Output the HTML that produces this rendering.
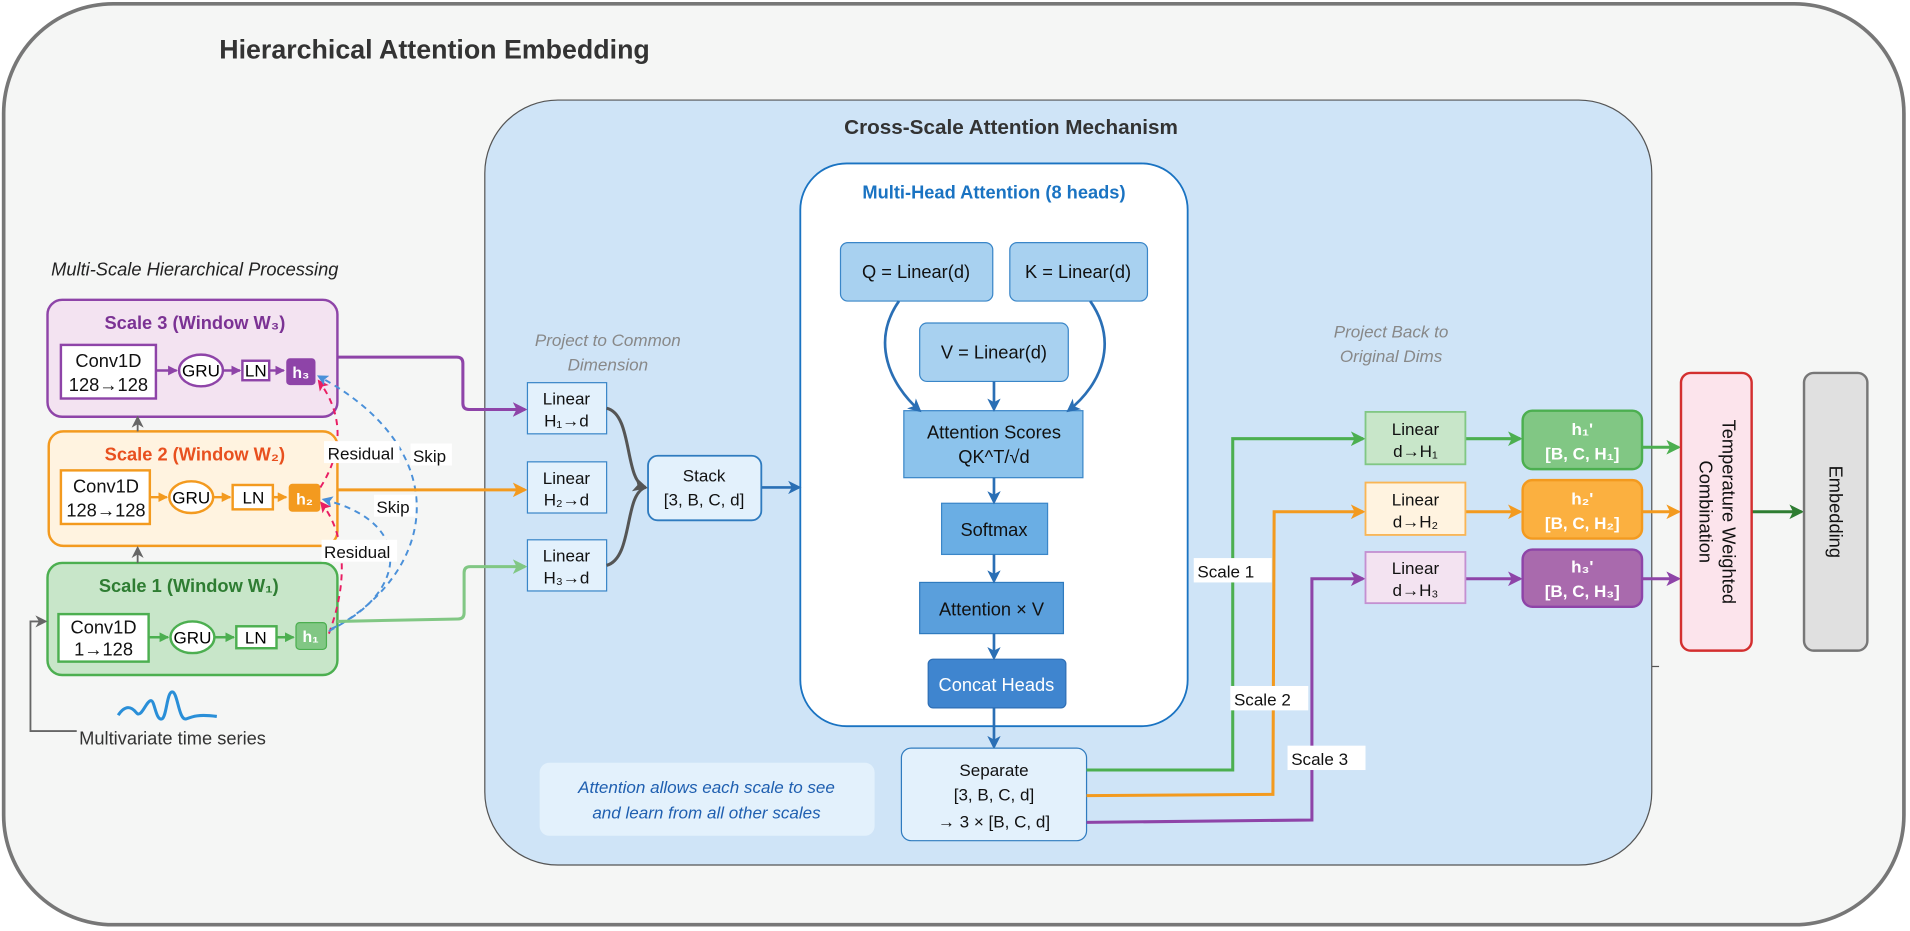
<!DOCTYPE html>
<html><head><meta charset="utf-8"><style>
html,body{margin:0;padding:0;background:#fff;}
svg{display:block;font-family:"Liberation Sans",sans-serif;}
</style></head><body>
<svg width="1910" height="931" viewBox="0 0 1568 764" xmlns="http://www.w3.org/2000/svg">
<defs>
<marker id="ag" markerWidth="10" markerHeight="10" refX="8" refY="5" orient="auto" markerUnits="userSpaceOnUse"><path d="M0,0 L10,5 L0,10 L3,5z" fill="#666"/></marker>
<marker id="ap" markerWidth="12" markerHeight="12" refX="10" refY="6" orient="auto" markerUnits="userSpaceOnUse"><path d="M0,0 L12,6 L0,12 L3,6z" fill="#8e44a8"/></marker>
<marker id="ao" markerWidth="12" markerHeight="12" refX="10" refY="6" orient="auto" markerUnits="userSpaceOnUse"><path d="M0,0 L12,6 L0,12 L3,6z" fill="#f39a1f"/></marker>
<marker id="agr" markerWidth="12" markerHeight="12" refX="10" refY="6" orient="auto" markerUnits="userSpaceOnUse"><path d="M0,0 L12,6 L0,12 L3,6z" fill="#4caf50"/></marker>
<marker id="algr" markerWidth="12" markerHeight="12" refX="10" refY="6" orient="auto" markerUnits="userSpaceOnUse"><path d="M0,0 L12,6 L0,12 L3,6z" fill="#81c784"/></marker>
<marker id="adg" markerWidth="12" markerHeight="12" refX="10" refY="6" orient="auto" markerUnits="userSpaceOnUse"><path d="M0,0 L12,6 L0,12 L3,6z" fill="#2e7d32"/></marker>
<marker id="ab" markerWidth="11" markerHeight="11" refX="9" refY="5.5" orient="auto" markerUnits="userSpaceOnUse"><path d="M0,0 L11,5.5 L0,11 L3,5.5z" fill="#2a6fb5"/></marker>
<marker id="agy" markerWidth="12" markerHeight="12" refX="10" refY="6" orient="auto" markerUnits="userSpaceOnUse"><path d="M0,0 L12,6 L0,12 L3,6z" fill="#555"/></marker>
<marker id="apk" markerWidth="9" markerHeight="9" refX="7" refY="4.5" orient="auto" markerUnits="userSpaceOnUse"><path d="M0,0 L9,4.5 L0,9 L2,4.5z" fill="#e91e63"/></marker>
<marker id="abl" markerWidth="9" markerHeight="9" refX="7" refY="4.5" orient="auto" markerUnits="userSpaceOnUse"><path d="M0,0 L9,4.5 L0,9 L2,4.5z" fill="#4a90d9"/></marker>
<marker id="agrs" markerWidth="8" markerHeight="8" refX="7" refY="4" orient="auto" markerUnits="userSpaceOnUse"><path d="M0,0 L8,4 L0,8z" fill="#4caf50"/></marker>
<marker id="aos" markerWidth="8" markerHeight="8" refX="7" refY="4" orient="auto" markerUnits="userSpaceOnUse"><path d="M0,0 L8,4 L0,8z" fill="#f39a1f"/></marker>
<marker id="aps" markerWidth="8" markerHeight="8" refX="7" refY="4" orient="auto" markerUnits="userSpaceOnUse"><path d="M0,0 L8,4 L0,8z" fill="#8e44a8"/></marker>
</defs>
<rect x="0" y="0" width="1568" height="764" fill="#fff"/>
<rect x="3" y="3" width="1560" height="756" rx="90" fill="#f5f6f5" stroke="#777" stroke-width="3"/>
<text x="180" y="48" font-size="22" font-weight="bold" fill="#333">Hierarchical Attention Embedding</text>

<!-- blue panel -->
<rect x="398" y="82" width="958" height="628" rx="60" fill="#cfe4f7" stroke="#555" stroke-width="1"/>
<line x1="1356" y1="547" x2="1362" y2="547" stroke="#555"/>
<text x="830" y="110" font-size="17" font-weight="bold" fill="#333" text-anchor="middle">Cross-Scale Attention Mechanism</text>

<!-- MHA -->
<rect x="657" y="134" width="318" height="462" rx="38" fill="#fff" stroke="#1a73c2" stroke-width="1.5"/>
<text x="816" y="163" font-size="15" font-weight="bold" fill="#1a73c2" text-anchor="middle">Multi-Head Attention (8 heads)</text>
<g font-size="15" fill="#111" text-anchor="middle">
<rect x="690" y="199" width="125" height="48" rx="6" fill="#a8d1f0" stroke="#3a86c8"/>
<text x="752" y="228">Q = Linear(d)</text>
<rect x="829" y="199" width="113" height="48" rx="6" fill="#a8d1f0" stroke="#3a86c8"/>
<text x="885" y="228">K = Linear(d)</text>
<rect x="755" y="265" width="122" height="48" rx="6" fill="#a8d1f0" stroke="#3a86c8"/>
<text x="816" y="294">V = Linear(d)</text>
<rect x="742" y="337" width="147" height="55" fill="#8cc3ec" stroke="#3a86c8"/>
<text x="816" y="360">Attention Scores</text>
<text x="816" y="380">QK^T/√d</text>
<rect x="773" y="413" width="87" height="42" fill="#6aaee4" stroke="#3a86c8"/>
<text x="816" y="440">Softmax</text>
<rect x="755" y="478" width="118" height="42" fill="#5a9fdc" stroke="#2f7bbf"/>
<text x="814" y="505">Attention × V</text>
<rect x="762" y="541" width="113" height="40" rx="4" fill="#3f85cf" stroke="#2f6fb5"/>
<text x="818" y="567" fill="#fff">Concat Heads</text>
</g>
<g fill="none" stroke="#2a6fb5" stroke-width="2.2">
<path d="M738,247 C715,280 730,315 755,337" marker-end="url(#ab)"/>
<path d="M895,247 C918,280 905,315 877,337" marker-end="url(#ab)"/>
<path d="M816,313 L816,336" marker-end="url(#ab)"/>
<path d="M816,392 L816,412" marker-end="url(#ab)"/>
<path d="M816,455 L816,477" marker-end="url(#ab)"/>
<path d="M816,520 L816,540" marker-end="url(#ab)"/>
<path d="M816,581 L816,613" marker-end="url(#ab)"/>
<path d="M625,400 L656,400" marker-end="url(#ab)"/>
</g>

<!-- Separate -->
<rect x="740" y="614" width="152" height="76" rx="8" fill="#e3f1fc" stroke="#2f7bbf"/>
<g font-size="14" fill="#111" text-anchor="middle">
<text x="816" y="637">Separate</text>
<text x="816" y="657">[3, B, C, d]</text>
<text x="816" y="679">→ 3 × [B, C, d]</text>
</g>
<rect x="443" y="626" width="275" height="60" rx="8" fill="#e3f1fc"/>
<g font-size="14" font-style="italic" fill="#1f5fb0" text-anchor="middle">
<text x="580" y="651">Attention allows each scale to see</text>
<text x="580" y="672">and learn from all other scales</text>
</g>

<!-- Project -->
<g font-size="14" font-style="italic" fill="#888" text-anchor="middle">
<text x="499" y="284">Project to Common</text>
<text x="499" y="304">Dimension</text>
<text x="1142" y="277">Project Back to</text>
<text x="1142" y="297">Original Dims</text>
</g>
<g font-size="14" fill="#111" text-anchor="middle">
<rect x="433" y="314" width="65" height="42" fill="#e3f1fc" stroke="#3a86c8"/>
<text x="465" y="332">Linear</text><text x="465" y="350">H₁→d</text>
<rect x="433" y="379" width="65" height="42" fill="#e3f1fc" stroke="#3a86c8"/>
<text x="465" y="397">Linear</text><text x="465" y="415">H₂→d</text>
<rect x="433" y="443" width="65" height="42" fill="#e3f1fc" stroke="#3a86c8"/>
<text x="465" y="461">Linear</text><text x="465" y="479">H₃→d</text>
<rect x="532" y="374" width="93" height="53" rx="8" fill="#e3f1fc" stroke="#2f7bbf" stroke-width="1.5"/>
<text x="578" y="395">Stack</text><text x="578" y="415">[3, B, C, d]</text>
</g>
<g fill="none" stroke="#555" stroke-width="2.5">
<path d="M498,335 C520,340 512,395 530,400" marker-end="url(#agy)"/>
<path d="M498,464 C520,458 512,405 530,400"/>
</g>

<!-- Left title -->
<text x="42" y="226" font-size="15" font-style="italic" fill="#222">Multi-Scale Hierarchical Processing</text>

<!-- Scale 3 -->
<rect x="39" y="246" width="238" height="96" rx="12" fill="#f3e3f1" stroke="#8e44a8" stroke-width="2"/>
<text x="160" y="270" font-size="15" font-weight="bold" fill="#7b3294" text-anchor="middle">Scale 3 (Window W₃)</text>
<rect x="50" y="283" width="78" height="44" fill="#fff" stroke="#8e44a8" stroke-width="2"/>
<g font-size="15" fill="#111" text-anchor="middle"><text x="89" y="301">Conv1D</text><text x="89" y="321">128→128</text></g>
<ellipse cx="165" cy="304" rx="18" ry="13" fill="#fff" stroke="#8e44a8" stroke-width="2"/>
<text x="165" y="309" font-size="14" text-anchor="middle">GRU</text>
<rect x="199" y="296" width="22" height="16" fill="#fff" stroke="#8e44a8" stroke-width="2"/>
<text x="210" y="309" font-size="14" text-anchor="middle">LN</text>
<rect x="235" y="294" width="24" height="22" rx="3" fill="#8e44a8"/>
<text x="247" y="310" font-size="13" font-weight="bold" fill="#fff" text-anchor="middle">h₃</text>
<g stroke="#8e44a8" stroke-width="2" fill="none"><path d="M128,304 L145,304" marker-end="url(#aps)"/><path d="M183,304 L197,304" marker-end="url(#aps)"/><path d="M221,304 L233,304" marker-end="url(#aps)"/></g>

<!-- Scale 2 -->
<rect x="40" y="354" width="237" height="94" rx="12" fill="#fff3e0" stroke="#f39a1f" stroke-width="2"/>
<text x="160" y="378" font-size="15" font-weight="bold" fill="#e8501f" text-anchor="middle">Scale 2 (Window W₂)</text>
<rect x="50" y="386" width="73" height="44" fill="#fff" stroke="#f39a1f" stroke-width="2"/>
<g font-size="15" fill="#111" text-anchor="middle"><text x="87" y="404">Conv1D</text><text x="87" y="424">128→128</text></g>
<ellipse cx="157" cy="408" rx="18" ry="13" fill="#fff" stroke="#f39a1f" stroke-width="2"/>
<text x="157" y="413" font-size="14" text-anchor="middle">GRU</text>
<rect x="191" y="398" width="33" height="20" fill="#fff" stroke="#f39a1f" stroke-width="2"/>
<text x="208" y="413" font-size="14" text-anchor="middle">LN</text>
<rect x="237" y="397" width="26" height="23" rx="3" fill="#f39a1f"/>
<text x="250" y="414" font-size="13" font-weight="bold" fill="#fff" text-anchor="middle">h₂</text>
<g stroke="#f39a1f" stroke-width="2" fill="none"><path d="M123,408 L137,408" marker-end="url(#aos)"/><path d="M175,408 L189,408" marker-end="url(#aos)"/><path d="M224,408 L235,408" marker-end="url(#aos)"/></g>

<!-- Scale 1 -->
<rect x="39" y="462" width="238" height="92" rx="12" fill="#c8e6c9" stroke="#4caf50" stroke-width="2"/>
<text x="155" y="486" font-size="15" font-weight="bold" fill="#2e7d32" text-anchor="middle">Scale 1 (Window W₁)</text>
<rect x="48" y="504" width="74" height="39" fill="#fff" stroke="#4caf50" stroke-width="2"/>
<g font-size="15" fill="#111" text-anchor="middle"><text x="85" y="520">Conv1D</text><text x="85" y="538">1→128</text></g>
<ellipse cx="158" cy="523" rx="18" ry="13" fill="#fff" stroke="#4caf50" stroke-width="2"/>
<text x="158" y="528" font-size="14" text-anchor="middle">GRU</text>
<rect x="194" y="514" width="33" height="18" fill="#fff" stroke="#4caf50" stroke-width="2"/>
<text x="210" y="528" font-size="14" text-anchor="middle">LN</text>
<rect x="243" y="511" width="25" height="22" rx="3" fill="#81c784" stroke="#4caf50"/>
<text x="255" y="527" font-size="13" font-weight="bold" fill="#fff" text-anchor="middle">h₁</text>
<g stroke="#4caf50" stroke-width="2" fill="none"><path d="M122,523 L138,523" marker-end="url(#agrs)"/><path d="M176,523 L192,523" marker-end="url(#agrs)"/><path d="M227,523 L241,523" marker-end="url(#agrs)"/></g>

<!-- up arrows -->
<g stroke="#666" stroke-width="1.5" fill="none">
<path d="M113,354 L113,343" marker-end="url(#ag)"/>
<path d="M113,462 L113,450" marker-end="url(#ag)"/>
<path d="M63,600 L25,600 L25,510 L37,510" marker-end="url(#ag)"/>
</g>
<path d="M97,587 C103,578 108,580 112,585 C116,590 120,575 124,575 C127,575 128,592 133,590 C137,588 137,566 142,568 C146,570 147,592 153,590 C158,588 163,586 178,588" fill="none" stroke="#2a8fd8" stroke-width="2.5"/>
<text x="65" y="611" font-size="15" fill="#333">Multivariate time series</text>

<!-- dashed -->
<g fill="none" stroke-width="1.6" stroke-dasharray="5,4">
<path d="M270,520 C285,480 285,440 264,413" stroke="#e91e63" marker-end="url(#apk)"/>
<path d="M263,400 C282,370 282,340 262,313" stroke="#e91e63" marker-end="url(#apk)"/>
<path d="M270,518 C360,470 375,370 262,309" stroke="#4a90d9" marker-end="url(#abl)"/>
<path d="M272,516 C330,490 345,430 266,410" stroke="#4a90d9" marker-end="url(#abl)"/>
</g>
<g font-size="14" fill="#111">
<rect x="266" y="362" width="62" height="18" fill="#fff"/><text x="269" y="377">Residual</text>
<rect x="337" y="364" width="34" height="18" fill="#fff"/><text x="339" y="379">Skip</text>
<rect x="307" y="406" width="34" height="18" fill="#fff"/><text x="309" y="421">Skip</text>
<rect x="264" y="443" width="62" height="18" fill="#fff"/><text x="266" y="458">Residual</text>
</g>

<!-- scale to linear -->
<g fill="none" stroke-width="2.5">
<path d="M277,293 L375,293 Q380,293 380,298 L380,331 Q380,336 385,336 L431,336" stroke="#8e44a8" marker-end="url(#ap)"/>
<path d="M277,402 L431,402" stroke="#f39a1f" marker-end="url(#ao)"/>
<path d="M277,510 L376,508 Q381,508 381,503 L381,470 Q381,465 386,465 L431,465" stroke="#81c784" marker-end="url(#algr)"/>
</g>

<!-- separate outputs -->
<g fill="none" stroke-width="2.5">
<path d="M892,632 L1012,632 L1012,360 L1119,360" stroke="#4caf50" marker-end="url(#agr)"/>
<path d="M892,653 L1045,652 L1046,420 L1119,420" stroke="#f39a1f" marker-end="url(#ao)"/>
<path d="M892,675 L1077,673 L1077,475 L1119,475" stroke="#8e44a8" marker-end="url(#ap)"/>
<path d="M1203,360 L1248,360" stroke="#4caf50" marker-end="url(#agr)"/>
<path d="M1203,420 L1248,420" stroke="#f39a1f" marker-end="url(#ao)"/>
<path d="M1203,475 L1248,475" stroke="#8e44a8" marker-end="url(#ap)"/>
<path d="M1348,367 L1378,367" stroke="#4caf50" marker-end="url(#agr)"/>
<path d="M1348,420 L1378,420" stroke="#f39a1f" marker-end="url(#ao)"/>
<path d="M1348,475 L1378,475" stroke="#8e44a8" marker-end="url(#ap)"/>
<path d="M1438,420 L1479,420" stroke="#2e7d32" marker-end="url(#adg)"/>
</g>
<g font-size="14" fill="#111">
<rect x="980" y="458" width="64" height="20" fill="#fff"/><text x="983" y="474">Scale 1</text>
<rect x="1010" y="563" width="64" height="20" fill="#fff"/><text x="1013" y="579">Scale 2</text>
<rect x="1057" y="612" width="64" height="20" fill="#fff"/><text x="1060" y="628">Scale 3</text>
</g>

<g font-size="14" fill="#111" text-anchor="middle">
<rect x="1121" y="338" width="82" height="43" fill="#c8e6c9" stroke="#81c784" stroke-width="1.5"/>
<text x="1162" y="357">Linear</text><text x="1162" y="375">d→H₁</text>
<rect x="1121" y="396" width="82" height="43" fill="#fff3e0" stroke="#f9b555" stroke-width="1.5"/>
<text x="1162" y="415">Linear</text><text x="1162" y="433">d→H₂</text>
<rect x="1121" y="453" width="82" height="42" fill="#f3e3f1" stroke="#c490d1" stroke-width="1.5"/>
<text x="1162" y="471">Linear</text><text x="1162" y="489">d→H₃</text>
</g>
<g font-size="14" font-weight="bold" fill="#fff" text-anchor="middle">
<rect x="1250" y="337" width="98" height="48" rx="8" fill="#81c784" stroke="#4caf50" stroke-width="2"/>
<text x="1299" y="357">h₁'</text><text x="1299" y="377">[B, C, H₁]</text>
<rect x="1250" y="394" width="98" height="48" rx="8" fill="#fbb040" stroke="#f39a1f" stroke-width="2"/>
<text x="1299" y="414">h₂'</text><text x="1299" y="434">[B, C, H₂]</text>
<rect x="1250" y="451" width="98" height="47" rx="8" fill="#a96aad" stroke="#8e44a8" stroke-width="2"/>
<text x="1299" y="470">h₃'</text><text x="1299" y="490">[B, C, H₃]</text>
</g>

<rect x="1380" y="306" width="58" height="228" rx="8" fill="#fce4ec" stroke="#d32f2f" stroke-width="2"/>
<g transform="translate(1409,420) rotate(90)" font-size="15" fill="#111" text-anchor="middle">
<text x="0" y="-5">Temperature Weighted</text>
<text x="0" y="14">Combination</text>
</g>
<rect x="1481" y="306" width="52" height="228" rx="8" fill="#e0e0e0" stroke="#777" stroke-width="2"/>
<g transform="translate(1507,420) rotate(90)" font-size="15" fill="#111" text-anchor="middle">
<text x="0" y="5">Embedding</text>
</g>
</svg>
</body></html>
